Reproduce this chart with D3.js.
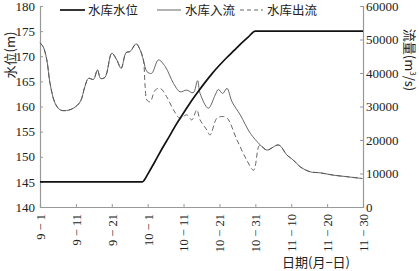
<!DOCTYPE html>
<html><head><meta charset="utf-8">
<script src="https://cdn.jsdelivr.net/npm/d3@7"></script>
<style>
body{margin:0;background:#fff;}
text{font-family:"Liberation Serif","DejaVu Serif","Noto Sans CJK SC",serif;fill:#222;}
.cjk{font-family:"Noto Sans CJK SC","Liberation Serif",sans-serif;}
</style></head>
<body><svg id="c" width="419" height="271"></svg>
<script>
// ---- data ----
const tickDays = [0,10,20,30,40,50,60,70,80,90];
const tickLabels = ["9 − 1","9 − 11","9 − 21","10 − 1","10 − 11","10 − 21","10 − 31","11 − 10","11 − 20","11 − 30"];
const levelTicks = [140,145,150,155,160,165,170,175,180];
const flowTicks = [0,10000,20000,30000,40000,50000,60000];

const levelDays  = [0,28.5,29,30,32,34,36,38,40,42,44,46,48,50,52,54,56,58,60,90];
const levelValues= [145,145,145.3,146.5,149.0,151.6,154.0,156.5,158.7,160.9,162.9,164.8,166.6,168.2,169.7,171.1,172.5,173.8,175,175];

const inflowDays  = [0,0.9,1.9,2.8,4.2,5.6,7.4,9.3,11.2,12.5,13.5,14.9,16.0,16.9,18.1,20.0,21.4,22.6,24.0,25.1,26.8,27.9,28.8,29.8,31.1,33.0,34.9,37.2,39.0,40.9,42.7,43.9,44.6,46.9,48.8,49.7,50.9,52.1,53.5,55.8,58.6,61.4,63.2,66.5,68.8,70.6,72.5,75.3,78.1,81.8,85.1,89.8];
const inflowValues= [49000,47800,43900,36900,31000,29000,28800,29500,31400,35900,38400,38100,40900,38400,38700,45900,43900,41400,46100,46400,48700,46900,43900,40400,39900,43900,41900,36900,34400,34900,34100,37700,33900,29500,33400,35100,33900,35400,31400,27500,22000,18500,17000,18500,15500,14000,12000,10500,10200,9500,9100,8500];

const outflowDays  = [0,0.9,1.9,2.8,4.2,5.6,7.4,9.3,11.2,12.5,13.5,14.9,16.0,16.9,18.1,20.0,21.4,22.6,24.0,25.1,26.8,27.9,28.8,29.3,29.8,30.7,32.1,33.5,35.3,37.2,39.0,40.9,42.3,43.7,44.6,46.5,47.4,49.3,51.1,52.2,54.9,57.6,59.5,60.9,61.4,63.2,66.5,68.8,70.6,72.5,75.3,78.1,81.8,85.1,89.8];
const outflowValues= [49000,47800,43900,36900,31000,29000,28800,29500,31400,35900,38400,38100,40900,38400,38700,45900,43900,41400,46100,46400,48700,46900,43900,35900,31900,31400,34900,35400,32900,29000,26500,27500,26000,29000,26000,23000,21500,26500,27000,26500,20000,14000,11000,18000,18500,17000,18500,15500,14000,12000,10500,10200,9500,9100,8500];

// ---- layout ----
const svg = d3.select("#c");
const L=40, R=363, T=6, B=207;
const x = d3.scaleLinear().domain([0,90]).range([L,R]);
const yL = d3.scaleLinear().domain([140,180]).range([B,T]);
const yR = d3.scaleLinear().domain([0,60000]).range([B,T]);
const axisColor="#999";

// axes
const gx = svg.append("g").attr("transform",`translate(0,${B})`)
  .call(d3.axisBottom(x).tickValues(tickDays).tickSize(-3).tickFormat((d,i)=>tickLabels[i]));
gx.selectAll("text").attr("transform","rotate(-90)").attr("text-anchor","end")
  .attr("x",-7).attr("y",0).attr("dy","0.35em").style("font-size","12.5px");
const gl = svg.append("g").attr("transform",`translate(${L},0)`)
  .call(d3.axisLeft(yL).tickValues(levelTicks).tickSize(-3));
gl.selectAll("text").attr("x",-5).style("font-size","13px");
const gr = svg.append("g").attr("transform",`translate(${R},0)`)
  .call(d3.axisRight(yR).tickValues(flowTicks).tickSize(-3).tickFormat(d3.format("d")));
gr.selectAll("text").attr("x",3).style("font-size","13px");
[gx,gl,gr].forEach(g=>{g.select(".domain").attr("stroke",axisColor).attr("stroke-width",1.2);
  g.selectAll(".tick line").attr("stroke",axisColor);});
svg.selectAll(".tick text").attr("fill","#222").attr("font-family","Liberation Serif, DejaVu Serif, serif");

// lines
const lineFlow = (days)=>d3.line().x((d,i)=>x(days[i])).y(d=>yR(d)).curve(d3.curveCatmullRom.alpha(0.5));
svg.append("path").datum(outflowValues).attr("d",lineFlow(outflowDays))
  .attr("fill","none").attr("stroke","#555").attr("stroke-width",0.9).attr("stroke-dasharray","5,3");
svg.append("path").datum(inflowValues).attr("d",lineFlow(inflowDays))
  .attr("fill","none").attr("stroke","#555").attr("stroke-width",0.9);
svg.append("path").datum(levelValues)
  .attr("d",d3.line().x((d,i)=>x(levelDays[i])).y(d=>yL(d)).curve(d3.curveMonotoneX))
  .attr("fill","none").attr("stroke","#111").attr("stroke-width",1.7);

// legend
const leg = [
  {x1:60,x2:85,tx:88,label:"水库水位",w:1.7,dash:null,c:"#111"},
  {x1:157,x2:181,tx:185,label:"水库入流",w:0.9,dash:null,c:"#555"},
  {x1:240,x2:263,tx:267,label:"水库出流",w:0.9,dash:"4,3",c:"#555"}];
leg.forEach(l=>{
  svg.append("line").attr("x1",l.x1).attr("x2",l.x2).attr("y1",10).attr("y2",10)
    .attr("stroke",l.c).attr("stroke-width",l.w).attr("stroke-dasharray",l.dash);
  svg.append("text").attr("class","cjk").attr("x",l.tx).attr("y",14.5).style("font-size","12.5px").text(l.label);
});

// axis titles
svg.append("text").attr("class","cjk").attr("transform","translate(15,55) rotate(-90)")
  .attr("text-anchor","middle").style("font-size","13px").text("水位(m)");
svg.append("text").attr("class","cjk").attr("transform","translate(405,60) rotate(90)")
  .attr("text-anchor","middle").style("font-size","13px").html("流量(m<tspan baseline-shift='super' font-size='8px'>3</tspan>/s)");
svg.append("text").attr("class","cjk").attr("x",282).attr("y",267).style("font-size","13px").text("日期(月−日)");
</script></body></html>
